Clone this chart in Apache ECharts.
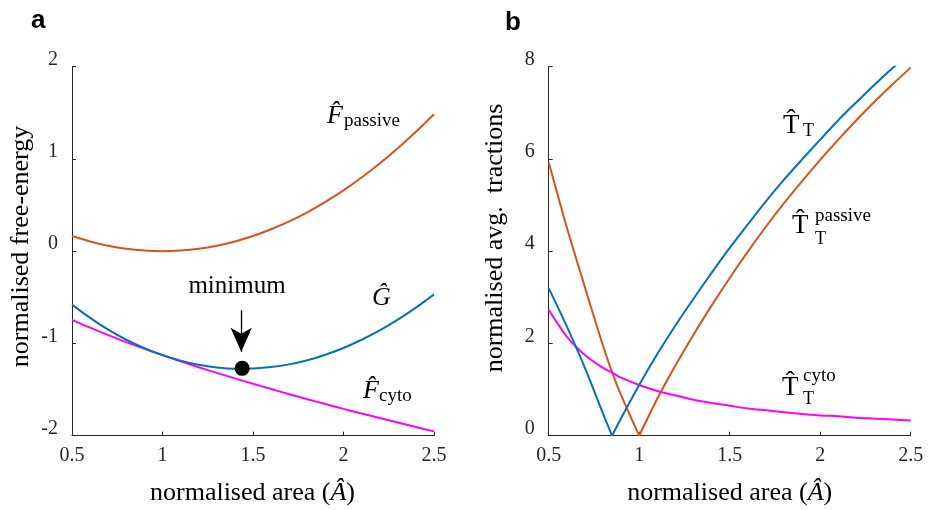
<!DOCTYPE html>
<html>
<head>
<meta charset="utf-8">
<script src="https://cdn.jsdelivr.net/npm/echarts@6/dist/echarts.min.js"></script>
<style>
  html, body { margin: 0; padding: 0; background: #fff; }
  #chart { width: 931px; height: 510px; }
</style>
</head>
<body>
<div id="chart"></div>
<script>
// panel a: free energies vs normalised area
const areaA = [0.5, 0.6, 0.7, 0.8, 0.9, 1.0, 1.1, 1.2, 1.3, 1.4, 1.5, 1.6, 1.7, 1.8, 1.9, 2.0, 2.1, 2.2, 2.3, 2.4, 2.5];
const fPassive = [0.165, 0.106, 0.059, 0.026, 0.007, 0.000, 0.007, 0.026, 0.059, 0.106, 0.165, 0.238, 0.323, 0.422, 0.535, 0.660, 0.799, 0.950, 1.115, 1.294, 1.485];
const fCyto = [-0.744, -0.829, -0.909, -0.986, -1.058, -1.127, -1.193, -1.258, -1.319, -1.379, -1.437, -1.494, -1.550, -1.604, -1.657, -1.709, -1.759, -1.809, -1.857, -1.906, -1.953];
const gTotal = [-0.579, -0.723, -0.850, -0.960, -1.051, -1.127, -1.186, -1.232, -1.260, -1.273, -1.272, -1.256, -1.227, -1.182, -1.122, -1.049, -0.960, -0.859, -0.742, -0.612, -0.468];
const minPoint = [1.44, -1.27];

// panel b: tractions vs normalised area
const areaB = [0.5, 0.6, 0.7, 0.8, 0.85, 0.9, 1.0, 1.1, 1.2, 1.3, 1.4, 1.5, 1.6, 1.7, 1.8, 1.9, 2.0, 2.1, 2.2, 2.3, 2.4, 2.5];
const tPassive = [5.93, 4.52, 3.22, 1.95, 1.38, 0.88, 0, 0.80, 1.52, 2.19, 2.82, 3.42, 3.99, 4.53, 5.04, 5.52, 5.98, 6.42, 6.84, 7.24, 7.62, 7.98];
const tCyto = [2.73, 2.15, 1.75, 1.47, 1.37, 1.26, 1.10, 0.97, 0.87, 0.78, 0.71, 0.65, 0.59, 0.55, 0.51, 0.47, 0.44, 0.42, 0.39, 0.37, 0.35, 0.33];
const tTotal = [3.20, 2.37, 1.47, 0.48, 0, 0.38, 1.10, 1.77, 2.39, 2.97, 3.53, 4.07, 4.58, 5.08, 5.55, 5.99, 6.42, 6.84, 7.23, 7.61, 7.97, 8.31];
const vertexPassive = 6;  // index of A = 1.0
const vertexTotal = 4;    // index of A = 0.85

const xTicks = [0.5, 1, 1.5, 2, 2.5];

const SERIF = 'Liberation Serif';
const AX = '#262626';
const ORANGE = '#D95319', BLUE = '#0072BD', MAGENTA = '#FF00FF';

const zip = (xs, ys) => xs.map((x, i) => [x, ys[i]]);

function xAxisFor(idx) {
  return {
    gridIndex: idx, type: 'value', min: 0.5, max: 2.5, interval: 0.5,
    axisLine: { onZero: false, lineStyle: { color: AX, width: 1 } },
    axisTick: { inside: true, length: 4, lineStyle: { color: AX } },
    splitLine: { show: false },
    axisLabel: { color: AX, fontFamily: SERIF, fontSize: 20, margin: 10,
      formatter: v => xTicks.includes(v) ? String(v) : '' }
  };
}
function yAxisFor(idx, min, max, interval) {
  return {
    gridIndex: idx, type: 'value', min: min, max: max, interval: interval,
    axisLine: { show: true, onZero: false, lineStyle: { color: AX, width: 1 } },
    axisTick: { show: true, inside: true, length: 4, lineStyle: { color: AX } },
    splitLine: { show: false },
    // labels sit a little above their ticks, as in the original
    axisLabel: { color: AX, fontFamily: SERIF, fontSize: 20, margin: 14,
      verticalAlign: 'bottom', lineHeight: 14 }
  };
}
function line(xi, data, color, smooth) {
  return { type: 'line', xAxisIndex: xi, yAxisIndex: xi, data: data, showSymbol: false,
    smooth: smooth, lineStyle: { color: color, width: 2 }, itemStyle: { color: color }, z: 3 };
}
// a V-shaped curve drawn as two smooth branches meeting at the vertex
function vLine(xi, data, vertex, color) {
  return [line(xi, data.slice(0, vertex + 1), color, 0.3), line(xi, data.slice(vertex), color, 0.3)];
}
function txt(x, y, text, size, opts) {
  return { type: 'text', x: x, y: y, silent: true,
    style: Object.assign({ text: text, fontFamily: SERIF, fontSize: size, fill: '#000',
      align: 'left', verticalAlign: 'middle' }, opts || {}) };
}

const chart = echarts.init(document.getElementById('chart'));
chart.setOption({
  animation: false,
  backgroundColor: '#fff',
  grid: [
    { left: 72, top: 66.7, width: 362, height: 369 },
    { left: 548.7, top: 66.7, width: 362, height: 369 }
  ],
  xAxis: [xAxisFor(0), xAxisFor(1)],
  yAxis: [yAxisFor(0, -2, 2, 1), yAxisFor(1, 0, 8, 2)],
  series: [
    line(0, zip(areaA, fPassive), ORANGE, 0.3),
    line(0, zip(areaA, fCyto), MAGENTA, 0.3),
    Object.assign(line(0, zip(areaA, gTotal), BLUE, 0.3), {
      markLine: {
        silent: true, symbol: ['none', 'arrow'], symbolSize: [16, 24], label: { show: false },
        lineStyle: { color: '#000', width: 1.3, type: 'solid' },
        data: [[{ coord: [1.435, -0.64] }, { coord: [1.435, -1.09] }]]
      }
    }),
    { type: 'scatter', xAxisIndex: 0, yAxisIndex: 0, data: [minPoint], symbolSize: 15,
      itemStyle: { color: '#000', opacity: 1 }, z: 5 },
    ...vLine(1, zip(areaB, tPassive), vertexPassive, ORANGE),
    line(1, zip(areaB, tCyto), MAGENTA, 0.3),
    ...vLine(1, zip(areaB, tTotal), vertexTotal, BLUE)
  ],
  graphic: [
    txt(31, 21, 'a', 26, { fontFamily: 'Liberation Sans', fontWeight: 'bold' }),
    txt(505, 23, 'b', 26, { fontFamily: 'Liberation Sans', fontWeight: 'bold' }),
    // axis titles
    txt(252.5, 493, 'normalised area ({i|A\u0302})', 26, { align: 'center', rich: { i: { fontFamily: SERIF, fontSize: 26, fontStyle: 'italic' } } }),
    txt(729.7, 493, 'normalised area ({i|A\u0302})', 26, { align: 'center', rich: { i: { fontFamily: SERIF, fontSize: 26, fontStyle: 'italic' } } }),
    Object.assign(txt(21, 246.5, 'normalised free-energy', 26, { align: 'center' }), { rotation: Math.PI / 2 }),
    Object.assign(txt(495, 238, 'normalised avg.  tractions', 26, { align: 'center' }), { rotation: Math.PI / 2 }),
    // panel a annotations
    txt(237, 286.5, 'minimum', 25, { align: 'center' }),
    txt(327, 116, 'F\u0302', 26, { fontStyle: 'italic' }),
    txt(344, 121.5, 'passive', 19),
    txt(372, 298, 'G\u0302', 26, { fontStyle: 'italic' }),
    txt(363, 391, 'F\u0302', 26, { fontStyle: 'italic' }),
    txt(379, 396.5, 'cyto', 19),
    // panel b annotations
    txt(783, 126, 'T\u0302', 27),
    txt(803, 131, 'T', 18),
    txt(792, 226, 'T\u0302', 27),
    txt(815, 216.5, 'passive', 19),
    txt(815, 239, 'T', 18),
    txt(782, 388, 'T\u0302', 27),
    txt(803, 376.5, 'cyto', 19),
    txt(803, 399, 'T', 18)
  ]
});
</script>
</body>
</html>
